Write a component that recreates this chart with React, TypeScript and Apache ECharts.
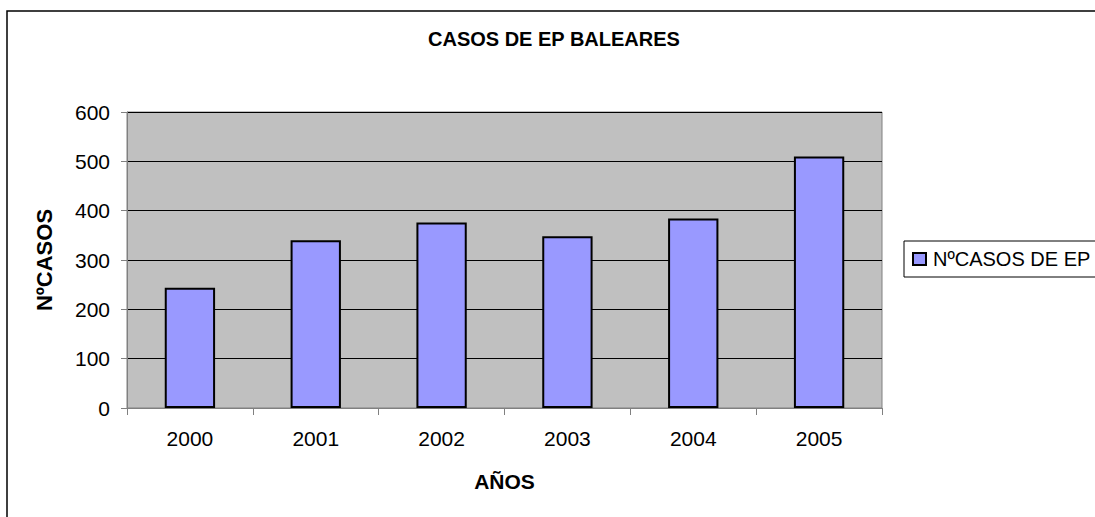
import React, { useEffect, useRef } from "react";
import * as echarts from "echarts";

const years = ["2000", "2001", "2002", "2003", "2004", "2005"];
const casos = [244, 340, 376, 348, 384, 510];
const seriesName = "NºCASOS DE EP";
const titleText = "CASOS DE EP BALEARES";
const yName = "NºCASOS";
const xName = "AÑOS";

const FONT = 'Arial, "Liberation Sans", sans-serif';

export default function App() {
  const ref = useRef<HTMLDivElement>(null);
  useEffect(() => {
    if (!ref.current) return;
    const chart = echarts.init(ref.current, null, { renderer: "svg" });
    chart.setOption({
      animation: false,
      backgroundColor: "#ffffff",
      textStyle: { fontFamily: FONT },
      title: {
        text: titleText,
        left: 428,
        top: 29,
        padding: 0,
        textStyle: { fontFamily: FONT, fontSize: 20, fontWeight: "bold", color: "#000" },
      },
      graphic: [
        {
          type: "rect",
          shape: { x: 7, y: 11, width: 1300, height: 700 },
          style: { fill: "none", stroke: "#000", lineWidth: 1.5 },
          silent: true,
        },
      ],
      legend: {
        left: 904,
        top: 241,
        orient: "vertical",
        padding: [8, 30, 8, 8],
        borderColor: "#000",
        borderWidth: 1,
        itemWidth: 13,
        itemHeight: 12,
        icon: "rect",
        textStyle: { fontFamily: FONT, fontSize: 20, color: "#000", padding: [0, 0, 0, 2] },
        data: [seriesName],
      },
      grid: {
        left: 127,
        right: 213,
        top: 112,
        bottom: 109,
        show: true,
        backgroundColor: "#C0C0C0",
        borderColor: "#808080",
        borderWidth: 1,
      },
      xAxis: {
        type: "category",
        data: years,
        name: xName,
        nameLocation: "middle",
        nameGap: 63,
        nameTextStyle: { fontFamily: FONT, fontSize: 21, fontWeight: "bold", color: "#000" },
        axisLine: { show: true, lineStyle: { color: "#808080", width: 1 } },
        axisTick: { show: true, length: 7, alignWithLabel: false, lineStyle: { color: "#808080" } },
        axisLabel: { fontFamily: FONT, fontSize: 21, color: "#000", margin: 20 },
        splitLine: { show: false },
      },
      yAxis: {
        type: "value",
        min: 0,
        max: 600,
        interval: 100,
        name: yName,
        nameLocation: "middle",
        nameRotate: 90,
        nameGap: 72,
        nameTextStyle: { fontFamily: FONT, fontSize: 22, fontWeight: "bold", color: "#000" },
        axisLine: { show: true, lineStyle: { color: "#808080", width: 1 } },
        axisTick: { show: true, length: 6, lineStyle: { color: "#808080" } },
        axisLabel: { fontFamily: FONT, fontSize: 21, color: "#000", margin: 17 },
        splitLine: { show: true, lineStyle: { color: "#000", width: 1 } },
      },
      series: [
        {
          name: seriesName,
          type: "bar",
          data: casos,
          barWidth: "40%",
          itemStyle: { color: "#9999FF", borderColor: "#000", borderWidth: 2 },
        },
      ],
    });
    return () => chart.dispose();
  }, []);
  return (
    <div
      ref={ref}
      style={{ position: "fixed", left: 0, top: 0, width: 1095, height: 517 }}
    />
  );
}
